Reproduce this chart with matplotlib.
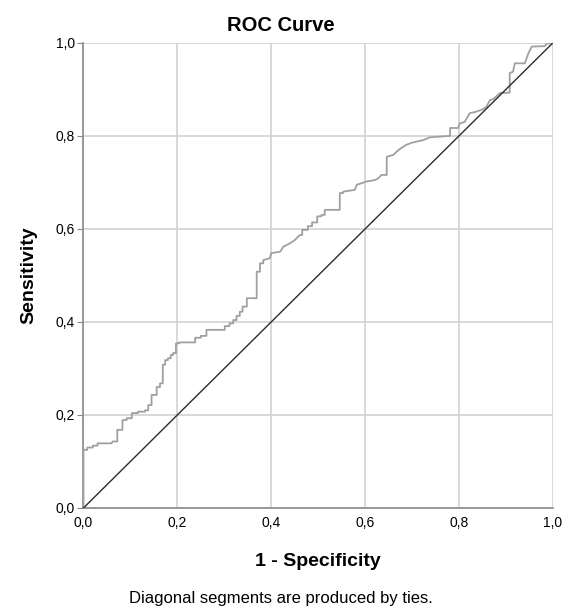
import matplotlib
matplotlib.use('Agg')
import matplotlib.pyplot as plt
from matplotlib.ticker import FuncFormatter

# step vertices of the ROC curve
FPR = [0.000, 0.000, 0.000, 0.008, 0.008, 0.020, 0.020, 0.030, 0.030, 0.060,
       0.062, 0.072, 0.072, 0.083, 0.083, 0.092, 0.092, 0.103, 0.103, 0.116,
       0.116, 0.131, 0.131, 0.138, 0.138, 0.145, 0.145, 0.156, 0.156, 0.163,
       0.163, 0.169, 0.169, 0.174, 0.174, 0.180, 0.180, 0.186, 0.186, 0.191,
       0.191, 0.197, 0.197, 0.204, 0.204, 0.238, 0.238, 0.250, 0.250, 0.262,
       0.262, 0.301, 0.301, 0.311, 0.311, 0.319, 0.319, 0.326, 0.326, 0.333,
       0.333, 0.339, 0.339, 0.348, 0.348, 0.369, 0.369, 0.376, 0.376, 0.383,
       0.383, 0.397, 0.400, 0.419, 0.426, 0.440, 0.450, 0.461, 0.466, 0.466,
       0.478, 0.478, 0.487, 0.487, 0.498, 0.498, 0.507, 0.507, 0.514, 0.514,
       0.546, 0.546, 0.553, 0.553, 0.578, 0.582, 0.589, 0.603, 0.621, 0.628,
       0.635, 0.646, 0.646, 0.660, 0.667, 0.674, 0.688, 0.702, 0.724, 0.738,
       0.781, 0.781, 0.798, 0.802, 0.812, 0.823, 0.833, 0.848, 0.858, 0.866,
       0.873, 0.887, 0.908, 0.908, 0.915, 0.919, 0.940, 0.944, 0.948, 0.955,
       0.983, 0.986, 1.000]
TPR = [0.000, 0.071, 0.125, 0.125, 0.130, 0.130, 0.134, 0.134, 0.139, 0.139,
       0.143, 0.143, 0.168, 0.168, 0.189, 0.189, 0.193, 0.193, 0.204, 0.204,
       0.207, 0.207, 0.210, 0.210, 0.221, 0.221, 0.243, 0.243, 0.260, 0.260,
       0.268, 0.268, 0.308, 0.308, 0.318, 0.318, 0.322, 0.322, 0.329, 0.329,
       0.333, 0.333, 0.354, 0.354, 0.356, 0.356, 0.366, 0.366, 0.370, 0.370,
       0.383, 0.383, 0.391, 0.391, 0.397, 0.397, 0.404, 0.404, 0.413, 0.413,
       0.422, 0.422, 0.433, 0.433, 0.451, 0.451, 0.508, 0.508, 0.526, 0.526,
       0.533, 0.537, 0.548, 0.551, 0.562, 0.569, 0.576, 0.587, 0.587, 0.598,
       0.598, 0.606, 0.606, 0.614, 0.614, 0.627, 0.627, 0.630, 0.630, 0.641,
       0.641, 0.677, 0.677, 0.680, 0.684, 0.695, 0.697, 0.702, 0.705, 0.709,
       0.716, 0.716, 0.755, 0.759, 0.766, 0.772, 0.781, 0.786, 0.791, 0.797,
       0.800, 0.817, 0.817, 0.827, 0.830, 0.849, 0.851, 0.856, 0.862, 0.877,
       0.879, 0.892, 0.893, 0.935, 0.938, 0.956, 0.956, 0.967, 0.978, 0.992,
       0.993, 0.998, 1.000]
TICKS = [0.0, 0.2, 0.4, 0.6, 0.8, 1.0]

CURVE, DIAG, GRID, AXIS = '#a0a0a0', '#2b2b2b', '#d2d2d2', '#8a8a8a'

plt.rcParams['font.family'] = ['Liberation Sans', 'DejaVu Sans']

fig = plt.figure(figsize=(5.69, 6.08), dpi=100)
ax = fig.add_axes([0.1467, 0.1645, 0.825, 0.765])

ax.plot(FPR, TPR, color=CURVE, lw=1.3, zorder=3)
ax.plot([0, 1], [0, 1], color=DIAG, lw=1.0, zorder=4)

ax.set_xlim(0, 1)
ax.set_ylim(0, 1)
ax.set_xticks(TICKS)
ax.set_yticks(TICKS)
fmt = FuncFormatter(lambda v, _: f'{v:.1f}'.replace('.', ','))
ax.xaxis.set_major_formatter(fmt)
ax.yaxis.set_major_formatter(fmt)
ax.grid(True, color=GRID, lw=1.2, zorder=0)
ax.set_axisbelow(True)
for side in ('top', 'right'):
    ax.spines[side].set_visible(False)
for side in ('left', 'bottom'):
    ax.spines[side].set_color(AXIS)
    ax.spines[side].set_linewidth(1.2)
ax.tick_params(axis='y', length=4, color=AXIS, labelsize=10, pad=2)
ax.tick_params(axis='x', length=0, labelsize=10, pad=6)

# title and footnote sit centred on the figure, not the axes
fig.text(0.494, 0.958, 'ROC Curve', ha='center', va='center',
         fontsize=14.5, fontweight='bold')
fig.text(0.558, 0.0757, '1 - Specificity', ha='center', va='center',
         fontsize=14, fontweight='bold')
ax.set_ylabel('Sensitivity', fontsize=14, fontweight='bold', labelpad=13)
fig.text(0.494, 0.008, 'Diagonal segments are produced by ties.',
         ha='center', va='baseline', fontsize=12)

fig.savefig('out.png', dpi=100)
